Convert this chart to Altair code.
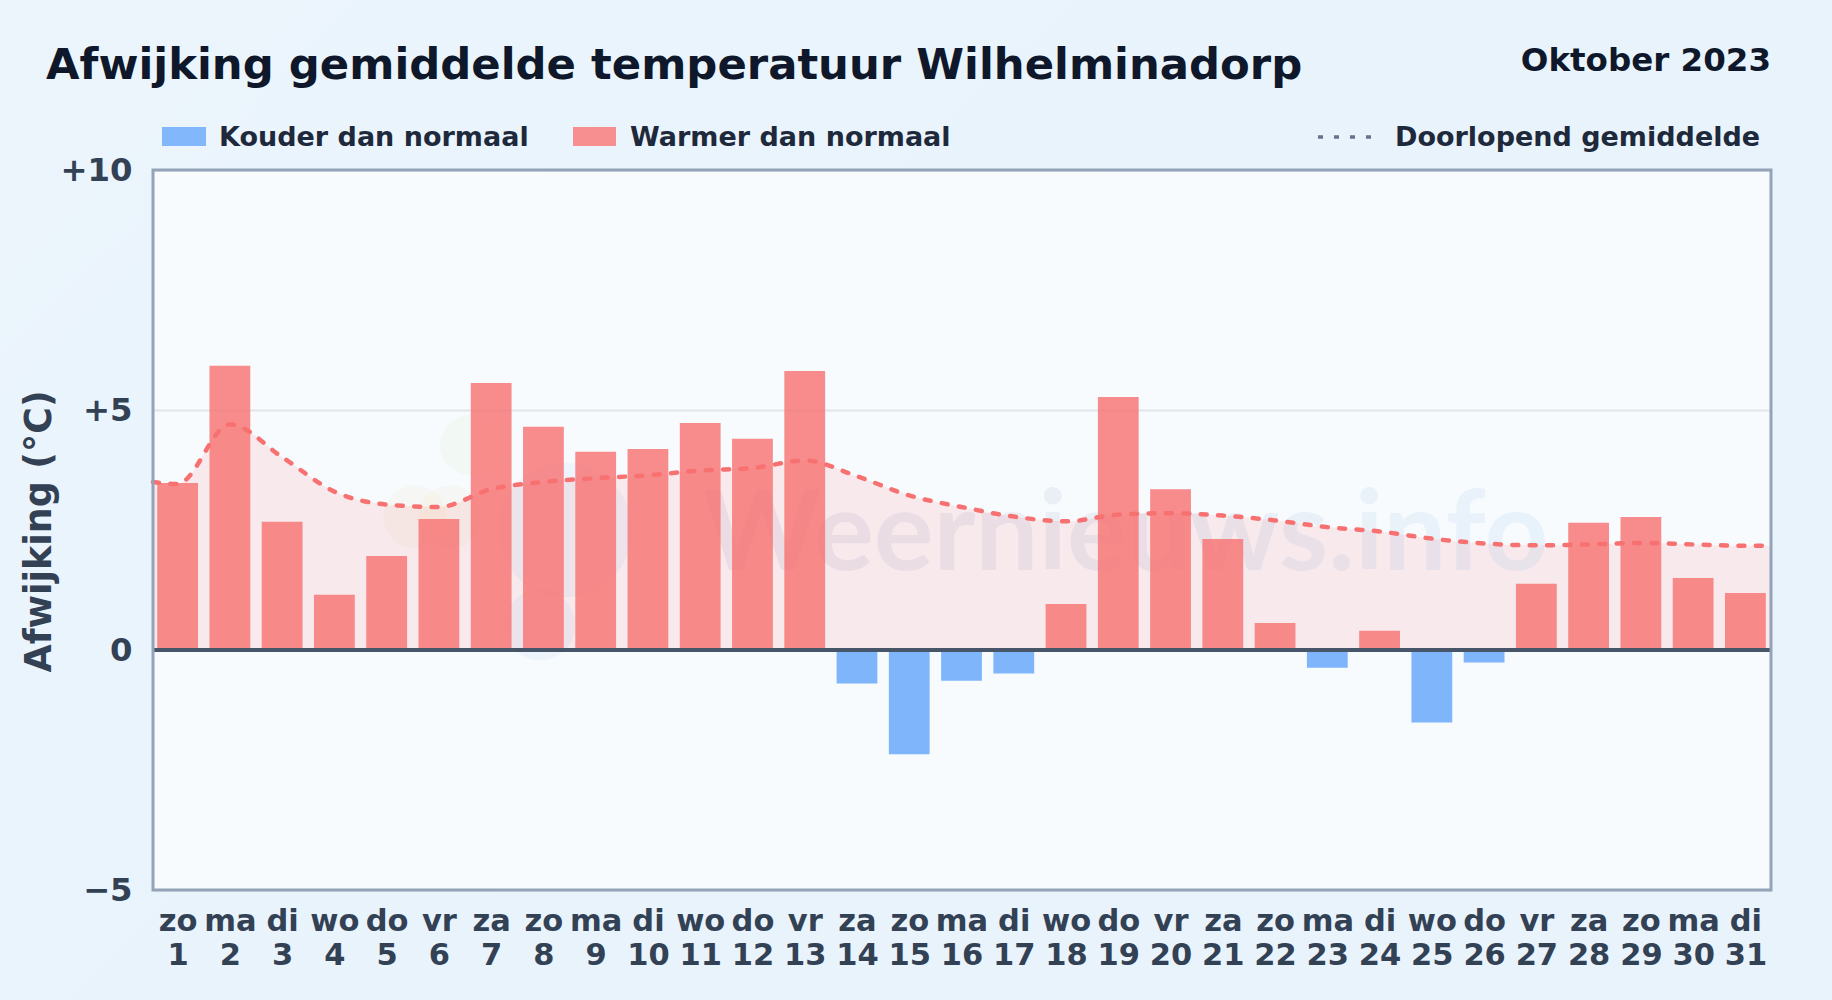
import altair as alt
import pandas as pd

days = list(range(1, 32))
weekdays = ["zo","ma","di","wo","do","vr","za","zo","ma","di","wo","do","vr","za","zo","ma","di","wo","do","vr","za","zo","ma","di","wo","do","vr","za","zo","ma","di"]
deviation = [3.48,5.92,2.67,1.15,1.96,2.73,5.56,4.65,4.13,4.19,4.73,4.40,5.81,-0.70,-2.17,-0.64,-0.49,0.96,5.27,3.35,2.31,0.56,-0.37,0.40,-1.51,-0.26,1.38,2.65,2.77,1.50,1.19]
running = [3.46,4.70,4.02,3.30,3.03,2.98,3.35,3.50,3.58,3.64,3.74,3.79,3.95,3.62,3.22,2.98,2.78,2.68,2.82,2.85,2.80,2.70,2.56,2.47,2.32,2.22,2.18,2.20,2.23,2.20,2.17]
line_days = [0.529] + days + [31.49]
line_vals = [3.50] + running + [2.17]

TITLE = "Afwijking gemiddelde temperatuur Wilhelminadorp"
PERIOD = "Oktober 2023"
COLD = "Kouder dan normaal"
WARM = "Warmer dan normaal"
AVG = "Doorlopend gemiddelde"
WATERMARK = "Weernieuws.info"
YTITLE = "Afwijking (°C)"

FONT = "DejaVu Sans"
L, T = 153, 170

bars_df = pd.DataFrame({"day": days, "dev": deviation})
bars_df["kind"] = [WARM if v >= 0 else COLD for v in deviation]
line_df = pd.DataFrame({"day": line_days, "avg": line_vals})

x_scale = alt.Scale(domain=[0.529, 31.49], nice=False, zero=False, padding=0)
y_scale = alt.Scale(domain=[-5, 10], nice=False)

wd = "[" + ",".join(f"'{w}'" for w in weekdays) + "]"
x_axis = alt.Axis(values=days, title=None, domain=False, ticks=False, grid=False,
                  labelExpr=f"[{wd}[datum.value-1], datum.label]",
                  labelFont=FONT, labelFontWeight="bold", labelFontSize=30.5, labelColor="#334155",
                  labelLineHeight=34, labelPadding=16, labelAngle=0, labelOverlap=False,
                  labelBound=False, labelFlush=False, labelBaseline="top", format="d")
y_axis = alt.Axis(values=[-5, 0, 5, 10], title=YTITLE, domain=False, ticks=False, grid=True,
                  gridColor="#e0e6ea", gridWidth=2,
                  labelExpr="datum.value>0 ? '+'+datum.value : (datum.value<0 ? '\u2212'+abs(datum.value) : '0')",
                  labelFont=FONT, labelFontWeight="bold", labelFontSize=32.3, labelColor="#334155",
                  labelPadding=21, labelOverlap=False, labelBound=False, labelFlush=False,
                  titleFont=FONT, titleFontWeight="bold", titleFontSize=36.4, titleColor="#334155",
                  titleX=-114, titleY=361, titleAngle=270, titleAlign="center", titleBaseline="middle")


def text(s, px, py, size, color, align="left", weight="bold", baseline="alphabetic"):
    return alt.Chart().mark_text(font=FONT, fontWeight=weight, fontSize=size, color=color, align=align,
                                 baseline=baseline).encode(
        x=alt.value(px - L), y=alt.value(py - T), text=alt.value(s))


def swatch(x0, x1, y0, y1, color):
    return alt.Chart().mark_rect(color=color).encode(
        x=alt.value(x0 - L), x2=alt.value(x1 - L), y=alt.value(y0 - T), y2=alt.value(y1 - T))


wm_fill = alt.LinearGradient(gradient="linear", x1=0, x2=1, y1=0, y2=0, stops=[
    alt.GradientStop(color="#7c5a8c", offset=0), alt.GradientStop(color="#6b7fae", offset=0.55),
    alt.GradientStop(color="#60a5e8", offset=1)])
watermark = alt.Chart().mark_text(font="Lato", fontWeight="bold", fontSize=112, fill=wm_fill, opacity=0.09,
                                  align="left", baseline="alphabetic").encode(
    x=alt.value(703 - L), y=alt.value(570 - T), text=alt.value(WATERMARK))


def blob(px, py, size, color, op=0.06):
    return alt.Chart().mark_circle(size=size, color=color, opacity=op).encode(
        x=alt.value(px - L), y=alt.value(py - T))


logo = [blob(470, 445, 3600, "#a3c94a"), blob(415, 517, 4000, "#f5b342", 0.05), blob(450, 517, 4000, "#f5b342", 0.05),
        blob(565, 530, 18000, "#5b8fd6"), blob(540, 625, 5000, "#5b8fd6")]

area = alt.Chart(line_df).mark_area(color="#f87171", opacity=0.13, interpolate="monotone").encode(
    x=alt.X("day:Q", scale=x_scale, axis=x_axis),
    y=alt.Y("avg:Q", scale=y_scale, axis=y_axis),
    y2=alt.datum(0))
bars = alt.Chart(bars_df).mark_bar(width=40.8, opacity=0.8).encode(
    x=alt.X("day:Q", scale=x_scale),
    y=alt.Y("dev:Q", scale=y_scale, stack=None),
    color=alt.Color("kind:N", scale=alt.Scale(domain=[COLD, WARM], range=["#60a5fa", "#f87171"]), legend=None))
line = alt.Chart(line_df).mark_line(color="#f87171", strokeWidth=4.5, strokeDash=[6, 11.4], strokeCap="round",
                                    interpolate="monotone").encode(
    x=alt.X("day:Q", scale=x_scale), y=alt.Y("avg:Q", scale=y_scale))
zero = alt.Chart().mark_rule(color="#475569", strokeWidth=4).encode(y=alt.datum(0))
frame = alt.Chart().mark_rect(fillOpacity=0, stroke="#94a3b8", strokeWidth=3).encode(
    x=alt.value(0), x2=alt.value(1618), y=alt.value(0), y2=alt.value(720))

legend_marks = [
    swatch(162, 206, 127, 146, "#82b7fb"), text(COLD, 219, 146, 27, "#1e293b"),
    swatch(573, 616, 127, 146, "#f78e8f"), text(WARM, 630, 146, 27, "#1e293b"),
    alt.Chart().mark_rule(color="#64748b", strokeWidth=3.5, strokeDash=[5, 11]).encode(
        x=alt.value(1318 - L), x2=alt.value(1376 - L), y=alt.value(137 - T)),
    text(AVG, 1395, 146, 27, "#1e293b"),
]

chart = alt.layer(
    area, *logo, watermark, bars, line, zero, frame,
    text(TITLE, 46, 79, 43.35, "#0f172a"), text(PERIOD, 1771, 71, 32.5, "#0f172a", align="right"),
    *legend_marks,
).properties(
    width=1618, height=720,
    padding={"left": L, "top": T, "right": 61, "bottom": 110},
    autosize=alt.AutoSizeParams(type="none"),
    background="transparent",
).configure_view(fill="#f7fbfe", stroke=None).resolve_scale(color="independent")

chart.save("out.html", embed_options={
    "renderer": "svg", "actions": False,
    "defaultStyle": "html,body{margin:0;padding:0;height:100%;overflow:hidden;"
                    "background:linear-gradient(135deg,#ecf5fc 0%,#e8f3fc 50%,#e9f3fc 100%);}"
                    ".vega-embed{display:block;}"})
